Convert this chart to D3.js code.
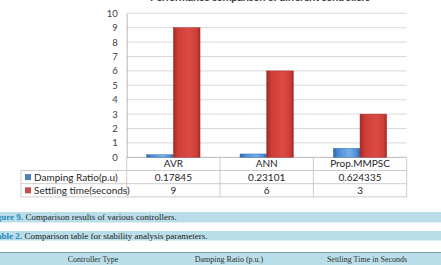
<!DOCTYPE html>
<html>
<head>
<meta charset="utf-8">
<script src="https://cdn.jsdelivr.net/npm/d3@7"></script>
<style>
  body { margin: 0; background: #fff; }
  svg { display: block; }
</style>
</head>
<body>
<div class="box"></div>
<script>
// Data
const categories = ["AVR", "ANN", "Prop.MMPSC"];
const seriesNames = ["Damping Ratio(p.u)", "Settling time(seconds)"];
const dampingRatio = [0.17845, 0.23101, 0.624335];
const settlingTime = [9, 6, 3];
const dampingLabels = ["0.17845", "0.23101", "0.624335"];
const settlingLabels = ["9", "6", "3"];
const yTicks = [0, 1, 2, 3, 4, 5, 6, 7, 8, 9, 10];
const tableHeaders = ["Controller Type", "Damping Ratio (p.u.)", "Settling Time in Seconds"];

const seriesValues = [dampingRatio, settlingTime];
const seriesLabels = [dampingLabels, settlingLabels];

/////////////////////////////////////////////////////////////////

// SVG
const w = 441;
const h = 265;
const svg = d3.select(".box")
              .append("svg")
              .attr("width", w)
              .attr("height", h);

const defs = svg.append("defs");

function barGradient(id, dark, mid, light) {
    const g = defs.append("linearGradient")
                  .attr("id", id)
                  .attr("x1", 0).attr("x2", 1).attr("y1", 0).attr("y2", 0);
    g.append("stop").attr("offset", "0%").attr("stop-color", dark);
    g.append("stop").attr("offset", "18%").attr("stop-color", mid);
    g.append("stop").attr("offset", "60%").attr("stop-color", light);
    g.append("stop").attr("offset", "88%").attr("stop-color", mid);
    g.append("stop").attr("offset", "100%").attr("stop-color", dark);
}
barGradient("gradBlue", "#2f66a8", "#4a8ad6", "#78aee8");
barGradient("gradRed", "#a02b26", "#cf3d37", "#dc4a44");
const fills = ["url(#gradBlue)", "url(#gradRed)"];
const strokes = ["#3a6fae", "#a8302b"];
const markerColors = ["#4f81bd", "#c0504d"];

/////////////////////////////////////////////////////////////////

// SCALES
const plotLeft = 126.7, plotRight = 406.7;
const plotTop = 13.3, plotBottom = 157.3;

const x0 = d3.scaleBand()
             .domain(categories)
             .range([plotLeft, plotRight])
             .padding(0);

const x1 = d3.scaleBand()
             .domain([0, 1])
             .range([20, x0.bandwidth() - 20])
             .padding(0);

const y = d3.scaleLinear()
            .domain([0, 10])
            .range([plotBottom, plotTop]);

const chartFont = "Lato, 'Open Sans', sans-serif";

// Title (cut at top of the picture, as in the source)
svg.append("text")
   .attr("x", 260)
   .attr("y", 0.8)
   .attr("text-anchor", "middle")
   .attr("textLength", 220)
   .style("font-family", chartFont)
   .style("font-size", "11px")
   .style("font-weight", "bold")
   .style("fill", "#404040")
   .text("Performance comparison of different controllers");

// Grid lines
svg.append("g")
   .selectAll("line")
   .data(yTicks)
   .join("line")
   .attr("x1", plotLeft)
   .attr("x2", plotRight)
   .attr("y1", d => y(d))
   .attr("y2", d => y(d))
   .attr("stroke", d => d === 0 ? "#a6a6a6" : "#cfcfcf")
   .attr("stroke-width", 0.8);

// Y axis
const yAxis = svg.append("g")
                 .attr("transform", "translate(" + plotLeft + ",0)")
                 .call(d3.axisLeft(y).tickValues(yTicks).tickSize(0).tickPadding(9));
yAxis.select(".domain").attr("stroke", "#a6a6a6").attr("stroke-width", 0.8);
yAxis.selectAll("text")
     .style("font-family", chartFont)
     .style("font-size", "9.5px")
     .style("fill", "#404040");

// Bars
const groups = svg.append("g")
                  .selectAll("g")
                  .data(categories)
                  .join("g")
                  .attr("transform", d => "translate(" + x0(d) + ",0)");

groups.selectAll("rect")
      .data((d, i) => seriesValues.map((vals, s) => ({ s: s, v: vals[i] })))
      .join("rect")
      .attr("x", d => x1(d.s))
      .attr("width", x1.bandwidth())
      .attr("y", d => y(d.v))
      .attr("height", d => y(0) - y(d.v))
      .attr("fill", d => fills[d.s])
      .attr("stroke", d => strokes[d.s])
      .attr("stroke-width", 0.5);

///////////////////////////////////////////////////////////////

// DATA TABLE
const tableLeft = 21;
const rowH = 13.2;
const rows = [plotBottom, plotBottom + rowH, plotBottom + 2 * rowH, plotBottom + 3 * rowH];
const lineColor = "#bfbfbf";
const table = svg.append("g");

// horizontal lines
[1, 2, 3].forEach(r => {
    table.append("line")
         .attr("x1", tableLeft).attr("x2", plotRight)
         .attr("y1", rows[r]).attr("y2", rows[r]);
});
// vertical lines
table.append("line")
     .attr("x1", tableLeft).attr("x2", tableLeft)
     .attr("y1", rows[1]).attr("y2", rows[3]);
table.selectAll(".vline")
     .data(categories.concat(["end"]))
     .join("line")
     .attr("class", "vline")
     .attr("x1", (d, i) => plotLeft + i * x0.bandwidth())
     .attr("x2", (d, i) => plotLeft + i * x0.bandwidth())
     .attr("y1", rows[0])
     .attr("y2", rows[3]);
table.selectAll("line")
     .attr("stroke", lineColor)
     .attr("stroke-width", 0.8);

// category names
table.selectAll(".cat")
     .data(categories)
     .join("text")
     .attr("class", "cat")
     .attr("x", d => x0(d) + x0.bandwidth() / 2)
     .attr("y", rows[0] + rowH / 2 + 3.5)
     .attr("text-anchor", "middle")
     .text(d => d);

// series rows
seriesNames.forEach((name, s) => {
    const cy = rows[s + 1] + rowH / 2;
    table.append("rect")
         .attr("x", 25)
         .attr("y", cy - 3)
         .attr("width", 6)
         .attr("height", 6)
         .attr("fill", markerColors[s]);
    table.append("text")
         .attr("x", 34)
         .attr("y", cy + 3.5)
         .text(name);
    table.selectAll(".val" + s)
         .data(seriesLabels[s])
         .join("text")
         .attr("class", "val" + s)
         .attr("x", (d, i) => x0(categories[i]) + x0.bandwidth() / 2)
         .attr("y", cy + 3.5)
         .attr("text-anchor", "middle")
         .text(d => d);
});

table.selectAll("text")
     .style("font-family", chartFont)
     .style("font-size", "10px")
     .style("fill", "#262626");

///////////////////////////////////////////////////////////////

// PAGE CAPTIONS BELOW THE CHART
const serif = "'Liberation Serif', 'Times New Roman', serif";
const bandColor = "#b9dee9";

svg.append("rect").attr("x", 0).attr("y", 212).attr("width", w).attr("height", 10.5).attr("fill", bandColor);
svg.append("rect").attr("x", 0).attr("y", 231).attr("width", w).attr("height", 9.5).attr("fill", bandColor);
svg.append("rect").attr("x", 0).attr("y", 252).attr("width", w).attr("height", 13).attr("fill", bandColor);
svg.append("line").attr("x1", 0).attr("x2", w).attr("y1", 252.5).attr("y2", 252.5)
   .attr("stroke", "#7d9fae").attr("stroke-width", 1);

function caption(prefix, prefixEnd, body, yPos) {
    svg.append("text")
       .attr("x", prefixEnd)
       .attr("y", yPos)
       .attr("text-anchor", "end")
       .style("font-family", serif)
       .style("font-size", "9px")
       .style("font-weight", "bold")
       .style("fill", "#2b86b8")
       .text(prefix);
    svg.append("text")
       .attr("x", prefixEnd + 2.5)
       .attr("y", yPos)
       .style("font-family", serif)
       .style("font-size", "9px")
       .style("fill", "#222")
       .text(body);
}
caption("Figure 9.", 23, "Comparison results of various controllers.", 220);
caption("Table 2.", 22, "Comparison table for stability analysis parameters.", 238.5);

const headerX = [93, 229, 367];
svg.selectAll(".hdr")
   .data(tableHeaders)
   .join("text")
   .attr("class", "hdr")
   .attr("x", (d, i) => headerX[i])
   .attr("y", 261.5)
   .attr("text-anchor", "middle")
   .style("font-family", serif)
   .style("font-size", "8px")
   .style("fill", "#333")
   .text(d => d);
</script>
</body>
</html>
